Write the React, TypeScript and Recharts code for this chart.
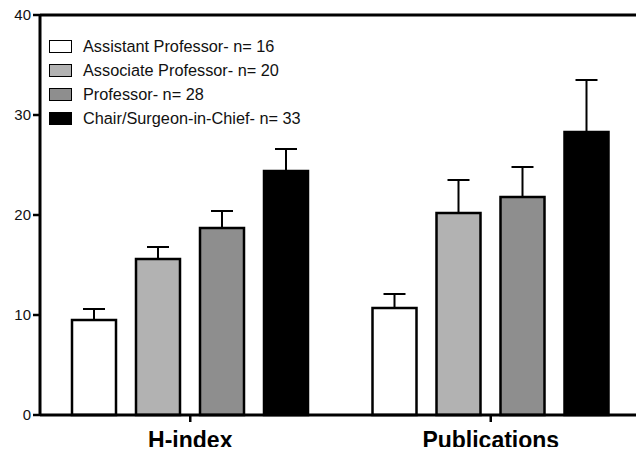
import { BarChart, Bar, XAxis, YAxis, ErrorBar, ReferenceLine } from "recharts"

const categories = ["H-index", "Publications"]
const seriesNames = [
  "Assistant Professor- n= 16",
  "Associate Professor- n= 20",
  "Professor- n= 28",
  "Chair/Surgeon-in-Chief- n= 33",
]
const assistant = [9.5, 10.7]
const assistantErr = [1.1, 1.4]
const associate = [15.6, 20.2]
const associateErr = [1.2, 3.3]
const professor = [18.7, 21.8]
const professorErr = [1.7, 3.0]
const chair = [24.4, 28.3]
const chairErr = [2.2, 5.2]
const yTicks = [0, 10, 20, 30, 40]

const keys = ["assistant", "associate", "professor", "chair"]
const fills = ["#ffffff", "#b2b2b2", "#8e8e8e", "#000000"]
const FONT = "'Liberation Sans', Arial, Helvetica, sans-serif"

const data = categories.map((name, i) => ({
  name,
  assistant: assistant[i],
  assistantErr: [0, assistantErr[i]],
  associate: associate[i],
  associateErr: [0, associateErr[i]],
  professor: professor[i],
  professorErr: [0, professorErr[i]],
  chair: chair[i],
  chairErr: [0, chairErr[i]],
}))

function LegendBox() {
  return (
    <div style={{ position: "absolute", left: 49, top: 34, fontFamily: FONT, fontSize: 16.3, color: "#111" }}>
      {seriesNames.map((s, i) => (
        <div key={s} style={{ display: "flex", alignItems: "center", height: 24 }}>
          <span
            style={{
              display: "inline-block",
              width: 21,
              height: 11,
              background: fills[i],
              border: "1.5px solid #000",
              marginRight: 11,
            }}
          />
          <span>{s}</span>
        </div>
      ))}
    </div>
  )
}

function CategoryTick(props: any) {
  const { x, y, payload } = props
  return (
    <text x={x} y={y + 24} textAnchor="middle" fontFamily={FONT} fontWeight="bold" fontSize={23} fill="#000">
      {payload.value}
    </text>
  )
}

export default function App() {
  return (
    <div style={{ position: "relative", margin: -8, width: 644, height: 455, background: "#fff" }}>
      <BarChart
        width={644}
        height={455}
        data={data}
        margin={{ top: 15, right: 2, left: 0, bottom: 0 }}
        barSize={44}
        barGap={20}
      >
        <XAxis
          dataKey="name"
          height={40}
          axisLine={{ stroke: "#000", strokeWidth: 3 }}
          tickLine={{ stroke: "#000", strokeWidth: 2.5 }}
          tickSize={7}
          tick={<CategoryTick />}
        />
        <YAxis
          domain={[0, 40]}
          ticks={yTicks}
          width={40}
          axisLine={{ stroke: "#000", strokeWidth: 3 }}
          tickLine={{ stroke: "#000", strokeWidth: 2.5 }}
          tickSize={7}
          tick={{ fill: "#111", fontSize: 15, fontFamily: FONT }}
        />
        <YAxis yAxisId="right" orientation="right" domain={[0, 40]} width={1} tick={false} tickLine={false} axisLine={{ stroke: "#000", strokeWidth: 3 }} />
        <ReferenceLine y={40} stroke="#000" strokeWidth={3} />
        {keys.map((k, i) => (
          <Bar
            key={k}
            dataKey={k}
            name={seriesNames[i]}
            fill={fills[i]}
            stroke="#000"
            strokeWidth={2.5}
            isAnimationActive={false}
          >
            <ErrorBar dataKey={`${k}Err`} direction="y" width={11} stroke="#000" strokeWidth={2} />
          </Bar>
        ))}
      </BarChart>
      <LegendBox />
    </div>
  )
}
